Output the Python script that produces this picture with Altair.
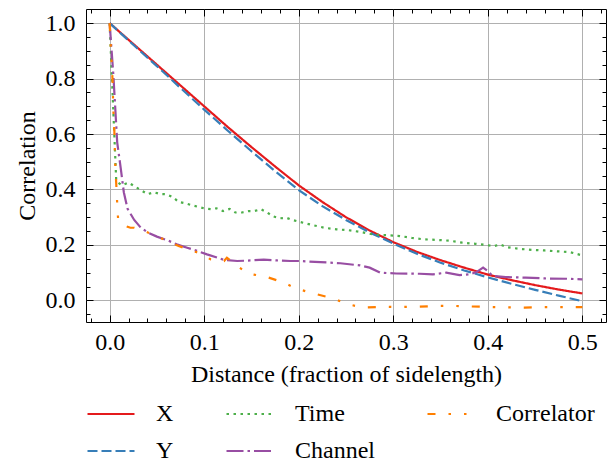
import altair as alt
import pandas as pd

# ---------------- data ----------------
series_names = ["X", "Y", "Time", "Channel", "Correlator"]

xy_dist = [0, 0.025, 0.05, 0.075, 0.1, 0.125, 0.15, 0.175, 0.2, 0.225, 0.25,
           0.275, 0.3, 0.325, 0.35, 0.375, 0.4, 0.425, 0.45, 0.475, 0.5]
x_corr = [1.0, 0.925, 0.85, 0.775, 0.70, 0.625, 0.553, 0.483, 0.415, 0.355, 0.30,
          0.252, 0.21, 0.175, 0.145, 0.118, 0.093, 0.073, 0.055, 0.039, 0.025]
y_corr = [1.0, 0.922, 0.845, 0.766, 0.688, 0.612, 0.538, 0.466, 0.398, 0.34, 0.29,
          0.245, 0.205, 0.168, 0.136, 0.108, 0.083, 0.06, 0.038, 0.017, -0.003]

time_dist = [0, 0.007, 0.013, 0.02, 0.027, 0.033, 0.04, 0.047, 0.053, 0.06, 0.067,
             0.073, 0.08, 0.087, 0.093, 0.1, 0.107, 0.113, 0.12, 0.127, 0.133, 0.14,
             0.147, 0.153, 0.16, 0.167, 0.173, 0.18, 0.187, 0.193, 0.2, 0.213, 0.227,
             0.24, 0.253, 0.267, 0.28, 0.293, 0.307, 0.32, 0.333, 0.347, 0.36, 0.373,
             0.387, 0.4, 0.407, 0.413, 0.42, 0.433, 0.447, 0.46, 0.473, 0.487, 0.5]
time_corr = [1.0, 0.43, 0.415, 0.425, 0.41, 0.398, 0.383, 0.39, 0.384, 0.383, 0.372,
             0.355, 0.35, 0.343, 0.338, 0.332, 0.329, 0.332, 0.322, 0.33, 0.317, 0.317,
             0.322, 0.322, 0.329, 0.316, 0.303, 0.296, 0.298, 0.29, 0.284, 0.273, 0.262,
             0.256, 0.253, 0.246, 0.237, 0.235, 0.232, 0.225, 0.22, 0.218, 0.215, 0.208,
             0.204, 0.199, 0.196, 0.202, 0.192, 0.186, 0.182, 0.18, 0.177, 0.174, 0.162]

chan_dist = [0, 0.004, 0.008, 0.012, 0.015, 0.019, 0.026, 0.033, 0.041, 0.05, 0.061,
             0.071, 0.082, 0.093, 0.103, 0.114, 0.121, 0.135, 0.149, 0.163, 0.177,
             0.191, 0.201, 0.223, 0.244, 0.265, 0.275, 0.286, 0.303, 0.328, 0.342,
             0.356, 0.37, 0.381, 0.388, 0.395, 0.4, 0.405, 0.419, 0.44, 0.461, 0.483, 0.5]
chan_corr = [1.0, 0.81, 0.57, 0.47, 0.39, 0.33, 0.29, 0.262, 0.244, 0.23, 0.217,
             0.202, 0.19, 0.178, 0.166, 0.154, 0.146, 0.142, 0.144, 0.147, 0.144,
             0.142, 0.142, 0.138, 0.134, 0.126, 0.118, 0.1, 0.097, 0.096, 0.094,
             0.1, 0.091, 0.094, 0.102, 0.118, 0.106, 0.088, 0.084, 0.082, 0.079, 0.078, 0.076]

corr_dist = [0, 0.001, 0.003, 0.004, 0.005, 0.006, 0.007, 0.008, 0.009, 0.015, 0.022,
             0.026, 0.033, 0.041, 0.056, 0.073, 0.091, 0.107, 0.121, 0.124, 0.134,
             0.147, 0.165, 0.184, 0.198, 0.217, 0.237, 0.252, 0.268, 0.291, 0.307,
             0.326, 0.346, 0.363, 0.383, 0.402, 0.419, 0.439, 0.458, 0.476, 0.5]
corr_corr = [1.0, 0.93, 0.80, 0.68, 0.61, 0.485, 0.42, 0.35, 0.29, 0.27, 0.262,
             0.262, 0.255, 0.244, 0.222, 0.196, 0.175, 0.148, 0.142, 0.154, 0.126,
             0.096, 0.086, 0.064, 0.042, 0.024, 0.006, -0.014, -0.026, -0.023, -0.024,
             -0.023, -0.02, -0.02, -0.022, -0.024, -0.025, -0.026, -0.024, -0.024, -0.024]

x_major = [0.0, 0.1, 0.2, 0.3, 0.4, 0.5]
x_minor = [round(-0.02 + 0.02 * i, 2) for i in range(28)]
y_major = [0.0, 0.2, 0.4, 0.6, 0.8, 1.0]
y_minor = [round(-0.05 + 0.05 * i, 2) for i in range(22)]

legend_order = ["X", "Y", "Time", "Channel", "Correlator"]
color_map = {"X": "#e41a1c", "Y": "#377eb8", "Time": "#4daf4a",
             "Channel": "#984ea3", "Correlator": "#ff7f00"}
dash_map = {"X": [1, 0], "Y": [10, 4], "Time": [2.5, 4.5],
            "Channel": [17, 4, 2.5, 4], "Correlator": [8, 13, 2.5, 13, 2.5, 13]}

rows = []
for name, xs, ys in [("X", xy_dist, x_corr), ("Y", xy_dist, y_corr),
                     ("Time", time_dist, time_corr), ("Channel", chan_dist, chan_corr),
                     ("Correlator", corr_dist, corr_corr)]:
    for a, b in zip(xs, ys):
        rows.append({"series": name, "dist": a, "corr": b})
df = pd.DataFrame(rows)

FONT = "Liberation Serif"
FS = 24

x_scale = alt.Scale(domain=[-0.025, 0.525], nice=False, zero=False)
y_scale = alt.Scale(domain=[-0.078, 1.051], nice=False, zero=False)

legend = alt.Legend(orient="none", legendX=0, legendY=380, columns=3,
                    columnPadding=48, rowPadding=-18, symbolType="stroke",
                    symbolSize=2209, symbolStrokeWidth=2.2, labelOffset=20,
                    labelFont=FONT, labelFontSize=FS, labelColor="black")

lines = alt.Chart(df).mark_line(strokeWidth=2.2).encode(
    x=alt.X("dist:Q", scale=x_scale, title="Distance (fraction of sidelength)",
            axis=alt.Axis(orient="bottom", values=x_major, format=".1f", grid=True,
                          ticks=False, tickSize=0, domain=False, labelPadding=8,
                          titlePadding=8)),
    y=alt.Y("corr:Q", scale=y_scale, title="Correlation",
            axis=alt.Axis(orient="left", values=y_major, format=".1f", grid=True,
                          ticks=False, tickSize=0, domain=False, labelPadding=11,
                          titlePadding=6)),
    color=alt.Color("series:N", title=None,
                    scale=alt.Scale(domain=legend_order,
                                    range=[color_map[s] for s in legend_order]),
                    legend=legend),
    strokeDash=alt.StrokeDash("series:N", title=None,
                              scale=alt.Scale(domain=legend_order,
                                              range=[dash_map[s] for s in legend_order]),
                              legend=legend),
)


def tick_layer(xvals, yvals, size, xorient, yorient):
    return alt.Chart(df).mark_point(opacity=0).encode(
        x=alt.X("dist:Q", scale=x_scale, title="",
                axis=alt.Axis(orient=xorient, values=xvals, labels=False, grid=False,
                              domain=False, ticks=True, tickSize=size, offset=-size,
                              tickColor="black", tickWidth=1)),
        y=alt.Y("corr:Q", scale=y_scale, title="",
                axis=alt.Axis(orient=yorient, values=yvals, labels=False, grid=False,
                              domain=False, ticks=True, tickSize=size, offset=-size,
                              tickColor="black", tickWidth=1)),
    )


chart = alt.layer(
    lines,
    tick_layer(x_major, y_major, 7, "bottom", "left"),
    tick_layer(x_minor, y_minor, 4, "bottom", "left"),
    tick_layer(x_major, y_major, 7, "top", "right"),
    tick_layer(x_minor, y_minor, 4, "top", "right"),
).resolve_scale(x="shared", y="shared").resolve_axis(
    x="independent", y="independent"
).properties(
    width=520, height=313,
    autosize=alt.AutoSizeParams(type="none"),
    padding={"left": 78, "top": 1, "right": 2, "bottom": 150},
).configure_view(stroke="black", strokeWidth=1).configure_axis(
    labelFont=FONT, labelFontSize=FS, labelColor="black",
    titleFont=FONT, titleFontSize=FS, titleColor="black", titleFontWeight="normal",
    gridColor="#b0b0b0", gridWidth=1,
)

chart.save("out.html", embed_options={"renderer": "svg", "actions": False})
